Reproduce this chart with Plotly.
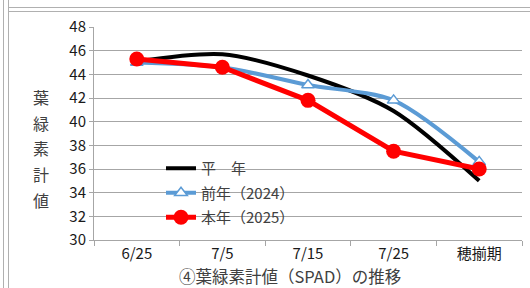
import plotly.graph_objects as go

categories = ["6/25", "7/5", "7/15", "7/25", "穂揃期"]
heinen = [45.1, 45.7, 43.9, 40.9, 35.0]
zennen = [45.0, 44.6, 43.1, 41.8, 36.6]
honnen = [45.3, 44.6, 41.8, 37.5, 36.0]
y_ticks = [30, 32, 34, 36, 38, 40, 42, 44, 46, 48]

W, H = 530, 288
L, R, T, B = 94, 8, 27, 48
PW, PH = W - L - R, H - T - B

def px(x):
    return (x - L) / PW

def py(y):
    return (H - B - y) / PH

FONT = "Noto Sans CJK JP"

fig = go.Figure()
fig.add_trace(go.Scatter(
    x=categories, y=heinen, name="平　年", mode="lines",
    line=dict(color="#000000", width=4, shape="spline", smoothing=0.8),
    legendgroup="a"))
fig.add_trace(go.Scatter(
    x=categories, y=zennen, name="前年（2024）", mode="lines+markers",
    line=dict(color="#5b9bd5", width=4, shape="spline", smoothing=0.8),
    marker=dict(symbol="triangle-up", size=11, color="white",
                line=dict(color="#5b9bd5", width=1.5)),
    legendgroup="b"))
fig.add_trace(go.Scatter(
    x=categories, y=honnen, name="本年（2025）", mode="lines+markers",
    line=dict(color="#ff0000", width=5),
    marker=dict(symbol="circle", size=15, color="#ff0000"),
    legendgroup="c"))

fig.update_layout(
    width=W, height=H, autosize=False,
    margin=dict(l=L, r=R, t=T, b=B),
    paper_bgcolor="white", plot_bgcolor="white",
    font=dict(family=FONT, size=15, color="#262626"),
    showlegend=True,
    legend=dict(x=px(161), y=py(152), xanchor="left", yanchor="top",
                bgcolor="rgba(0,0,0,0)", borderwidth=0,
                font=dict(family=FONT, size=15, color="#404040"),
                tracegroupgap=2, itemwidth=30),
    xaxis=dict(type="category", tickson="boundaries", showgrid=False,
               showline=True, linecolor="#a6a6a6", linewidth=1,
               ticks="outside", ticklen=5, tickcolor="#a6a6a6",
               tickfont=dict(family=FONT, size=15, color="#1a1a1a"),
               range=[-0.5, 4.5], fixedrange=True),
    yaxis=dict(range=[30, 48], tickvals=y_ticks, showgrid=True,
               gridcolor="#a6a6a6", gridwidth=1,
               showline=True, linecolor="#a6a6a6", linewidth=1,
               ticks="outside", ticklen=4, tickcolor="#a6a6a6",
               tickfont=dict(family=FONT, size=15, color="#1a1a1a"),
               zeroline=False, fixedrange=True),
)

# vertical axis title, one character per line
for i, ch in enumerate("葉緑素計値"):
    fig.add_annotation(text=ch, xref="paper", yref="paper",
                       x=px(41), y=py(97 + i * 25.7), showarrow=False,
                       xanchor="center", yanchor="middle",
                       font=dict(family=FONT, size=16, color="#404040"))

fig.add_annotation(text="④葉緑素計値（SPAD）の推移", xref="paper", yref="paper",
                   x=px(290), y=py(276), showarrow=False,
                   xanchor="center", yanchor="middle",
                   font=dict(family=FONT, size=16.5, color="#404040"))

# sheet cell borders
border = dict(color="#b0b0b0", width=1)
fig.add_shape(type="line", xref="paper", yref="paper",
              x0=px(3.5), x1=px(3.5), y0=py(0), y1=py(288), line=border)
fig.add_shape(type="line", xref="paper", yref="paper",
              x0=px(8.5), x1=px(8.5), y0=py(0), y1=py(288), line=border)
fig.add_shape(type="line", xref="paper", yref="paper",
              x0=px(8.5), x1=px(530), y0=py(7.5), y1=py(7.5), line=border)
fig.add_shape(type="line", xref="paper", yref="paper",
              x0=px(8.5), x1=px(530), y0=py(11.5), y1=py(11.5), line=border)

fig.write_html("out.html", config={"displayModeBar": False},
               post_script="document.body.style.margin='0';document.body.style.overflow='hidden';")
